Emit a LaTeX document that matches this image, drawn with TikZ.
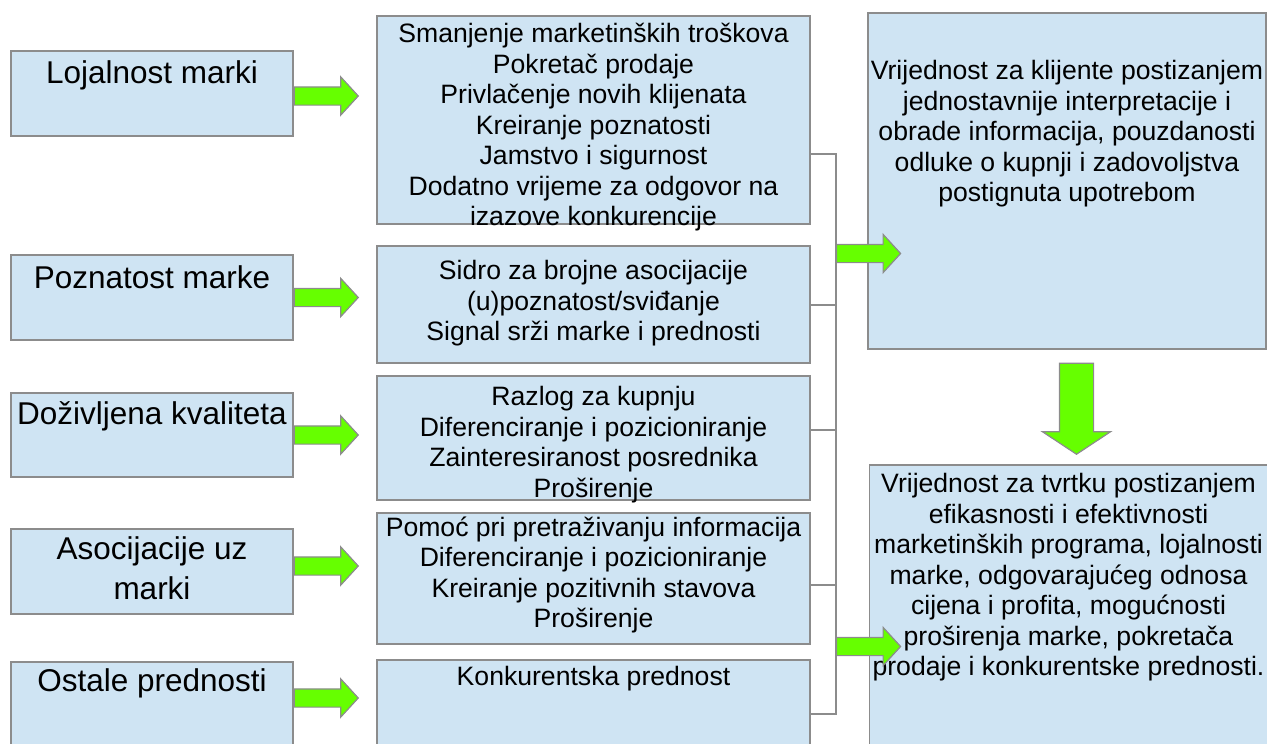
\documentclass[tikz,border=0pt]{standalone}
\usepackage{fontspec}
\setmainfont{Liberation Sans}
\usepackage{xcolor}
\usepackage{tikz}
\usetikzlibrary{positioning,shapes.arrows}
\definecolor{boxblue}{HTML}{CFE4F3}
\definecolor{boxline}{HTML}{8C8C8C}
\definecolor{arrgreen}{HTML}{66FF00}

\begin{document}
\begin{tikzpicture}[
  x=1pt, y=-1pt,
  box/.style={draw=boxline, fill=boxblue, line width=1.3pt, inner sep=0pt},
  lbox/.style={box, minimum width=282pt, minimum height=85pt},
  mbox/.style={box, minimum width=433pt},
  rbox/.style={box, minimum width=398pt},
  ltext/.style={align=center, inner sep=0pt, font=\fontsize{31.5}{40}\selectfont},
  mtext/.style={align=center, inner sep=0pt, font=\fontsize{26.6}{30.5}\selectfont},
  garr/.style={single arrow, draw=boxline, fill=arrgreen, line width=1.2pt,
    inner xsep=0pt, inner ysep=8.5pt, minimum width=0pt, minimum height=64pt,
    single arrow head extend=10pt, single arrow tip angle=95, single arrow head indent=0pt},
  bigarr/.style={garr, inner ysep=16.5pt, minimum height=91pt,
    single arrow head extend=17pt, single arrow tip angle=113},
  bus/.style={draw=boxline, line width=1.2pt}
]
\useasboundingbox (0,0) rectangle (1267,744);
\clip (0,0) rectangle (1267,744);

% left column
\node[lbox] (loj) at (152,93.5) {};
\node[lbox] (poz) at (152,297.5) {};
\node[lbox, minimum height=84pt] (kval) at (152,435) {};
\node[lbox] (asoc) at (152,571.5) {};
\node[lbox] (ost) at (152,704.5) {};
\node[ltext, below=10pt of loj.north] (lojt) {Lojalnost marki};
\node[ltext, below=11pt of poz.north] (pozt) {Poznatost marke};
\node[ltext, below=9pt of kval.north] (kvalt) {Doživljena kvaliteta};
\node[ltext, below=8pt of asoc.north] (asoct) {Asocijacije uz\\marki};
\node[ltext, below=7pt of ost.north] (ostt) {Ostale prednosti};

% middle column
\node[mbox, minimum height=208pt] (m1) at (593.5,120) {};
\node[mbox, minimum height=117pt] (m2) at (593.5,304.5) {};
\node[mbox, minimum height=124pt] (m3) at (593.5,438) {};
\node[mbox, minimum height=131pt] (m4) at (593.5,578.5) {};
\node[mbox, minimum height=110pt] (m5) at (593.5,715) {};
\node[mtext, below=8pt of m1.north] (m1t) {Smanjenje marketinških troškova\\Pokretač prodaje\\Privlačenje novih klijenata\\Kreiranje poznatosti\\Jamstvo i sigurnost\\Dodatno vrijeme za odgovor na\\izazove konkurencije};
\node[mtext, below=15pt of m2.north] (m2t) {Sidro za brojne asocijacije\\(u)poznatost/sviđanje\\Signal srži marke i prednosti};
\node[mtext, below=11pt of m3.north] (m3t) {Razlog za kupnju\\Diferenciranje i pozicioniranje\\Zainteresiranost posrednika\\Proširenje};
\node[mtext, below=4pt of m4.north] (m4t) {Pomoć pri pretraživanju informacija\\Diferenciranje i pozicioniranje\\Kreiranje pozitivnih stavova\\Proširenje};
\node[mtext, below=7pt of m5.north] (m5t) {Konkurentska prednost};

% right column
\node[rbox, minimum height=336pt] (r1) at (1067,181) {};
\node[rbox, minimum height=305pt] (r2) at (1068.5,617.5) {};
\node[mtext, below=48pt of r1.north] (r1t) {Vrijednost za klijente postizanjem\\jednostavnije interpretacije i\\obrade informacija, pouzdanosti\\odluke o kupnji i zadovoljstva\\postignuta upotrebom};
\node[mtext, below=9pt of r2.north] (r2t) {Vrijednost za tvrtku postizanjem\\efikasnosti i efektivnosti\\marketinških programa, lojalnosti\\marke, odgovarajućeg odnosa\\cijena i profita, mogućnosti\\proširenja marke, pokretača\\prodaje i konkurentske prednosti.};

% bracket joining the middle column
\coordinate (bustop) at (836,154);
\coordinate (busbot) at (836,714);
\coordinate (j1) at (836,253.5);
\coordinate (j2) at (836,646.5);
\draw[bus] (m1.east |- bustop) -- (bustop) -- (busbot) -- (m5.east |- busbot);
\draw[bus] ([yshift=-0.5pt]m2.east) -- ([yshift=-0.5pt]m2.east -| bustop);
\draw[bus] ([yshift=8pt]m3.east) -- ([yshift=8pt]m3.east -| bustop);
\draw[bus] ([yshift=-6.5pt]m4.east) -- ([yshift=-6.5pt]m4.east -| bustop);

% green arrows
\node[garr, anchor=tail] (a1) at ([yshift=-2.5pt]loj.east) {};
\node[garr, anchor=tail] (a2) at (poz.east) {};
\node[garr, anchor=tail] (a3) at (kval.east) {};
\node[garr, anchor=tail] (a4) at ([yshift=5.5pt]asoc.east) {};
\node[garr, anchor=tail] (a5) at ([yshift=6.5pt]ost.east) {};
\node[garr, anchor=tail] (a6) at (j1) {};
\node[garr, anchor=tail] (a7) at (j2) {};
\node[bigarr, rotate=-90, anchor=tail] (down) at ([xshift=9.5pt,yshift=-13pt]r1.south) {};
\end{tikzpicture}
\end{document}
